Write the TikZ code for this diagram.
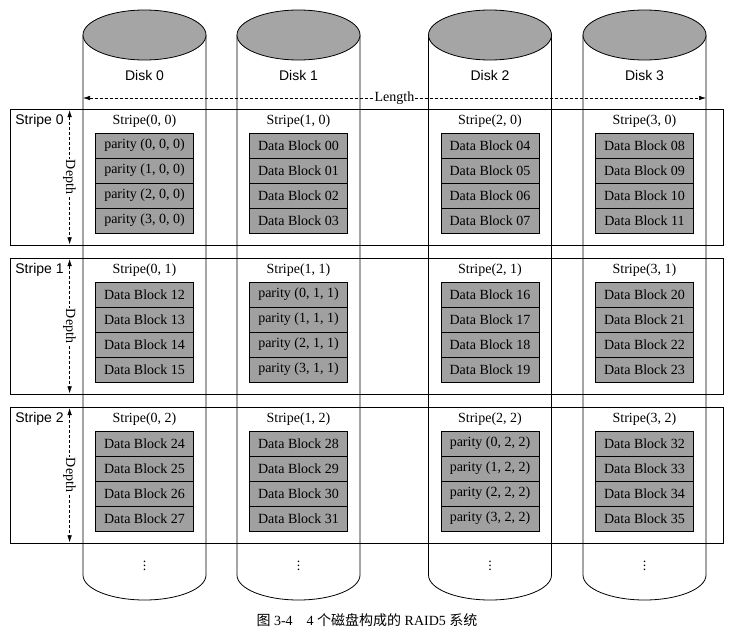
\documentclass[tikz,border=0pt]{standalone}
\usepackage{fontspec}
\setmainfont{Liberation Serif}
\setsansfont{Liberation Sans}
\newfontfamily\cjk{Noto Sans CJK SC}
\usetikzlibrary{arrows.meta}

\definecolor{blockgray}{RGB}{160,160,160}
\definecolor{diskgray}{RGB}{165,165,165}

\begin{document}
\begin{tikzpicture}[x=1pt,y=-1pt, line width=0.8pt,
  txt/.style={font=\fontsize{14}{16}\selectfont, inner sep=1pt},
  sanstxt/.style={font=\sffamily\fontsize{14}{16}\selectfont, inner sep=1pt},
  blk/.style={draw, fill=blockgray, minimum width=98pt, minimum height=25pt,
    inner sep=0pt, font=\fontsize{14}{16}\selectfont},
  stripebox/.style={draw, minimum width=713pt, minimum height=136pt, inner sep=0pt},
  dimline/.style={line width=0.6pt, dash pattern=on 3pt off 2pt, {Latex[length=7pt,width=4.5pt]}-{Latex[length=7pt,width=4.5pt]}}]
\useasboundingbox (0,0) rectangle (734,637);

% stripes
\foreach \s/\sy in {0/121,1/270,2/419}{
  \node[stripebox] (stripe\s) at (366.5,\sy+56) {};
  \node[sanstxt, anchor=west] (slab\s) at (14,\sy) {Stripe \s};
  \draw[dimline, shorten <=1.5pt, shorten >=1pt] ([xshift=60pt]stripe\s.north west) -- ([xshift=60pt]stripe\s.south west)
    node[midway, txt, rotate=-90, fill=white] {Depth};
}

% disks
\foreach \d/\cx in {0/144.5,1/298.5,2/490,3/644.5}{
  \draw (\cx-61.5,35) -- (\cx-61.5,575) arc[start angle=180, end angle=0, x radius=61.5, y radius=25] -- (\cx+61.5,35);
  \draw[fill=diskgray] (\cx,35) ellipse[x radius=61.5, y radius=25];
  \node[sanstxt] (dlab\d) at (\cx,75) {Disk \d};
  \node[txt] (dots\d) at (\cx,563) {$\vdots$};
  \coordinate (dl\d) at (\cx-61.5,98);
  \coordinate (dr\d) at (\cx+61.5,98);
}

% length
\draw[dimline] (dl0) -- (dr3) node[midway, txt, fill=white] {Length};

% blocks
\foreach \s/\sy in {0/121,1/270,2/419}{
  \foreach \d/\cx in {0/144.5,1/298.5,2/490,3/644.5}{
    \node[txt] (st\s\d) at (\cx,\sy) {Stripe(\d, \s)};
    \foreach \r in {0,...,3}{
      \ifnum\d=\s
        \def\blktxt{parity (\r, \s, \s)}
      \else
        \pgfmathtruncatemacro\k{\d<\s ? \d : \d-1}
        \pgfmathtruncatemacro\n{12*\s+4*\k+\r}
        \edef\blktxt{Data Block \ifnum\n<10 0\fi\n}
      \fi
      \node[blk] (b\s\d\r) at (\cx,\sy+24.5+25*\r) {\blktxt};
    }
  }
}

% caption
\node[txt] (cap) at (367,620) {{\cjk 图} 3-4\quad 4 {\cjk 个磁盘构成的} RAID5 {\cjk 系统}};
\end{tikzpicture}
\end{document}
